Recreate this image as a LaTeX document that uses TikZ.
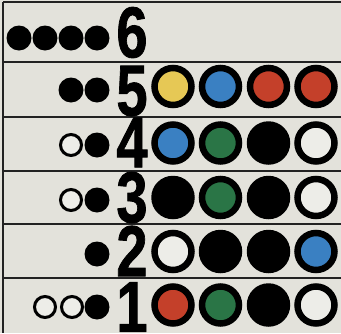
\documentclass[tikz,border=0pt]{standalone}
\usepackage{fontspec}
\usepackage{graphicx}
\newfontfamily\digitfont{Liberation Sans Bold}[FakeBold=1.2]
\definecolor{paper}{HTML}{E3E2DB}
\definecolor{pegyellow}{HTML}{E6C855}
\definecolor{pegblue}{HTML}{3A80C2}
\definecolor{pegred}{HTML}{C4402A}
\definecolor{peggreen}{HTML}{2A7546}
\definecolor{pegwhite}{HTML}{EDEDE8}
\definecolor{rule}{HTML}{222222}
\tikzset{
  bigpeg/.style={circle, draw=black, line width=6.5pt, minimum size=37pt, inner sep=0pt},
  bigblack/.style={circle, fill=black, minimum size=43.5pt, inner sep=0pt},
  keyfull/.style={circle, fill=black, minimum size=25pt, inner sep=0pt},
  keyopen/.style={circle, draw=black, fill=pegwhite, line width=3pt, minimum size=21pt, inner sep=0pt},
  rownum/.style={inner sep=0pt, font=\digitfont\fontsize{72}{72}\selectfont},
  rowline/.style={draw=rule, line width=1.6pt}
}
\newcommand{\cnum}[1]{\scalebox{0.78}[1]{#1}}
\begin{document}
\begin{tikzpicture}[x=1pt,y=-1pt]
\fill[paper] (0,0) rectangle (341,333);
\useasboundingbox (0,0) rectangle (341,333);
% frame lines
\coordinate (tl) at (3,2);
\coordinate (bl) at (3,333);
\coordinate (tr) at (341,2);
\draw[rowline] (tl) -- (bl);
\draw[rowline] (tl) -- (tr);
\foreach \yy/\nm in {62/a,117/b,171/c,224/d,278/e}{
  \coordinate (l\nm) at (3,\yy);
  \coordinate (r\nm) at (341,\yy);
  \draw[rowline] (l\nm) -- (r\nm);
}
% row 6
\node[keyfull] (k6a) at (19,38) {};
\node[keyfull] (k6b) at (45,38) {};
\node[keyfull] (k6c) at (71,38) {};
\node[keyfull] (k6d) at (97,38) {};
\node[rownum] (n6) at (132,32.5) {\cnum{6}};
% row 5
\node[keyfull] (k5a) at (71,90) {};
\node[keyfull] (k5b) at (97,90) {};
\node[rownum] (n5) at (132,91) {\cnum{5}};
\node[bigpeg, fill=pegyellow] (p5a) at (173,86.5) {};
\node[bigpeg, fill=pegblue] (p5b) at (220.5,86.5) {};
\node[bigpeg, fill=pegred] (p5c) at (268.5,86.5) {};
\node[bigpeg, fill=pegred] (p5d) at (316,86.5) {};
% row 4
\node[keyopen] (k4a) at (71,145) {};
\node[keyfull] (k4b) at (97,145) {};
\node[rownum] (n4) at (132,142.5) {\cnum{4}};
\node[bigpeg, fill=pegblue] (p4a) at (173,143) {};
\node[bigpeg, fill=peggreen] (p4b) at (220.5,143) {};
\node[bigblack] (p4c) at (268.5,143) {};
\node[bigpeg, fill=pegwhite] (p4d) at (316,143) {};
% row 3
\node[keyopen] (k3a) at (71,200) {};
\node[keyfull] (k3b) at (97,200) {};
\node[rownum] (n3) at (132,197.5) {\cnum{3}};
\node[bigblack] (p3a) at (173,197.5) {};
\node[bigpeg, fill=peggreen] (p3b) at (220.5,197.5) {};
\node[bigblack] (p3c) at (268.5,197.5) {};
\node[bigpeg, fill=pegwhite] (p3d) at (316,197.5) {};
% row 2
\node[keyfull] (k2a) at (97,254) {};
\node[rownum] (n2) at (132,251) {\cnum{2}};
\node[bigpeg, fill=pegwhite] (p2a) at (173,251.5) {};
\node[bigblack] (p2b) at (220.5,251.5) {};
\node[bigblack] (p2c) at (268.5,251.5) {};
\node[bigpeg, fill=pegblue] (p2d) at (316,251.5) {};
% row 1
\node[keyopen] (k1a) at (45,307) {};
\node[keyopen] (k1b) at (72,307) {};
\node[keyfull] (k1c) at (97,307) {};
\node[rownum] (n1) at (132,307) {\cnum{1}};
\node[bigpeg, fill=pegred] (p1a) at (173,305) {};
\node[bigpeg, fill=peggreen] (p1b) at (220.5,305) {};
\node[bigblack] (p1c) at (268.5,305) {};
\node[bigpeg, fill=pegwhite] (p1d) at (316,305) {};
\end{tikzpicture}
\end{document}
